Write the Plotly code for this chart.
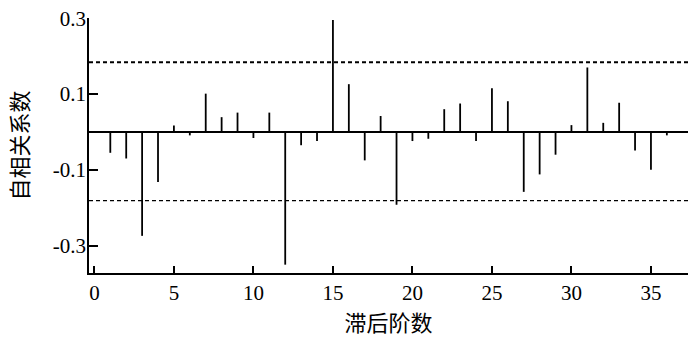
import plotly.graph_objects as go

lags = list(range(1, 37))
acf = [-0.055, -0.07, -0.274, -0.132, 0.017, -0.009, 0.101, 0.039, 0.051, -0.016,
       0.051, -0.35, -0.035, -0.024, 0.295, 0.126, -0.075, 0.042, -0.192, -0.024,
       -0.018, 0.06, 0.075, -0.024, 0.115, 0.081, -0.158, -0.112, -0.06, 0.018,
       0.17, 0.024, 0.077, -0.049, -0.1, -0.009]
upper_bound = 0.184
lower_bound = -0.181
x_ticks = [0, 5, 10, 15, 20, 25, 30, 35]
y_ticks = [-0.3, -0.1, 0.1, 0.3]
y_tick_text = ["-0.3", "-0.1", "0.1", "0.3"]

xs, ys = [], []
for l, v in zip(lags, acf):
    xs += [l, l, None]
    ys += [0, v, None]

fig = go.Figure()
fig.add_trace(go.Scatter(x=xs, y=ys, mode="lines",
                         line=dict(color="black", width=1.8), hoverinfo="skip"))
fig.add_hline(y=upper_bound, line=dict(color="black", width=2, dash="4px,3px"))
fig.add_hline(y=lower_bound, line=dict(color="black", width=1.3, dash="4px,3px"))

serif = "Liberation Serif, Times New Roman, serif"
cjk = "Noto Sans CJK SC"
fig.update_layout(
    width=700, height=341,
    margin=dict(l=89, r=12, t=18, b=68, autoexpand=False),
    paper_bgcolor="white", plot_bgcolor="white",
    showlegend=False,
    font=dict(family=serif, size=21, color="black"),
    xaxis=dict(range=[-0.34, 37.33], tickvals=x_ticks, ticks="inside", ticklen=7,
               tickwidth=1.5, tickcolor="black", showline=True, linecolor="black",
               linewidth=1.5, showgrid=False, zeroline=False, automargin=False,
               tickfont=dict(family=serif, size=21),
               title=dict(text="滞后阶数", font=dict(family=cjk, size=22), standoff=6)),
    yaxis=dict(range=[-0.372, 0.3005], tickvals=y_ticks, ticktext=y_tick_text,
               ticks="inside", ticklen=9, tickwidth=1.5, tickcolor="black",
               showline=True, linecolor="black", linewidth=1.5, showgrid=False,
               zeroline=True, zerolinecolor="black", zerolinewidth=2.4, automargin=False,
               tickfont=dict(family=serif, size=21), ticklabelstandoff=-3,
               title=dict(text="自相关系数", font=dict(family=cjk, size=22), standoff=18)),
)
fig.write_html("out.html", config={"displayModeBar": False},
               post_script="document.body.style.margin='0';")
